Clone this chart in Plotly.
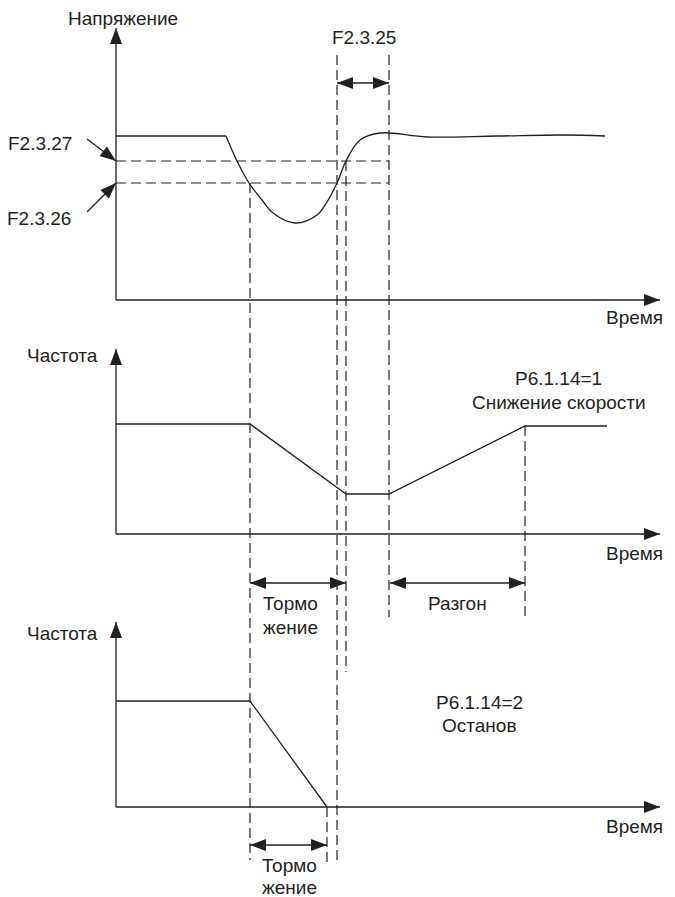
import numpy as np
import plotly.graph_objects as go

# Напряжение (верхний график), время в условных единицах
volt_flat_t = [0, 110]
volt_flat_v = [164, 164]
volt_curve_t = [110, 121, 133, 146, 157, 179, 201, 211, 221, 230, 244, 264, 311, 381, 447, 489]
volt_curve_v = [164, 139, 117, 100, 87, 77, 85, 98, 117, 139, 160, 167, 163, 164, 165, 164]
thr_27 = 139   # F2.3.27
thr_26 = 117   # F2.3.26

# Частота, P6.1.14=1 (снижение скорости)
freq1_t = [0, 134, 230, 273, 409, 491]
freq1_v = [110, 110, 40, 40, 108, 108]

# Частота, P6.1.14=2 (останов)
freq2_t = [0, 134, 211]
freq2_v = [106, 106, 0]

# моменты событий
t_brake, t_low, t_recover, t_hold, t_accel, t_stop = 134, 221, 230, 273, 409, 211
t_axis_end = 544

# положение панелей на общей вертикали
BASE = {'volt': 597, 'f1': 363, 'f2': 90}
INK = '#231f20'
FONT = 'Liberation Sans, Arial, sans-serif'
DASH = '10px,5px'

fig = go.Figure()


def Y(panel, v):
    return (BASE[panel] + np.asarray(v, dtype=float)).tolist()


def line(t, y, dash=None, shape='linear', width=1.3):
    fig.add_trace(go.Scatter(
        x=t, y=y, mode='lines',
        line=dict(color=INK, width=width, dash=dash, shape=shape),
        hoverinfo='skip', showlegend=False))


def head(x, y, dx, dy, L=16, W=12):
    d = np.hypot(dx, dy)
    ux, uy = dx / d, dy / d
    bx, by = x - ux * L, y - uy * L
    nx, ny = -uy * W / 2, ux * W / 2
    fig.add_shape(type='path',
                  path=f'M{x},{y} L{bx + nx},{by + ny} L{bx - nx},{by - ny} Z',
                  xref='x', yref='y', fillcolor=INK, line=dict(width=0))


def double_arrow(panel, v, t0, t1):
    y = Y(panel, v)
    line([t0, t1], [y, y], width=1.3)
    head(t0, y, -1, 0)
    head(t1, y, 1, 0)


def text(s, t, panel, v, anchor='center'):
    fig.add_annotation(x=t, y=Y(panel, v), text=s, showarrow=False,
                       xanchor=anchor, yanchor='middle',
                       font=dict(family=FONT, size=19, color=INK))


# оси
for panel, tip in [('volt', 272), ('f1', 185), ('f2', 185)]:
    y0, y1 = Y(panel, 0), Y(panel, tip)
    line([0, 0], [y0, y1])
    head(0, y1, 0, 1)
    line([0, t_axis_end], [y0, y0])
    head(t_axis_end, y0, 1, 0)

# кривые
line(volt_flat_t, Y('volt', volt_flat_v))
line(volt_curve_t, Y('volt', volt_curve_v), shape='spline')
line(freq1_t, Y('f1', freq1_v))
line(freq2_t, Y('f2', freq2_v))

# пороги
for thr in (thr_27, thr_26):
    line([0, t_hold], [Y('volt', thr)] * 2, dash=DASH, width=1.2)

# вертикальные пунктиры
verticals = [
    (t_brake, ('volt', thr_26), ('f2', -53)),
    (t_low, ('volt', 245), ('f2', -58)),
    (t_recover, ('volt', thr_27), ('f1', -138)),
    (t_hold, ('volt', 245), ('f1', -83)),
    (t_accel, ('f1', 108), ('f1', -83)),
    (t_stop, ('f2', 0), ('f2', -56)),
]
for t, a, b in verticals:
    line([t, t], [Y(*a), Y(*b)], dash=DASH, width=1.2)

# стрелки интервалов
double_arrow('volt', 217, t_low, t_hold)
double_arrow('f1', -49, t_brake, t_recover)
double_arrow('f1', -49, t_hold + 1, t_accel)
double_arrow('f2', -38, t_brake, t_stop)

# указатели порогов
for tail_v, thr in [(161, thr_27), (88, thr_26)]:
    ty, hy = Y('volt', tail_v), Y('volt', thr)
    line([-29, 0], [ty, hy])
    head(0, hy, 29, hy - ty)

# подписи
text('Напряжение', 7, 'volt', 282)
text('F2.3.25', 248, 'volt', 263)
text('F2.3.27', -76, 'volt', 157)
text('F2.3.26', -77, 'volt', 82)
text('Время', 549, 'volt', -17, 'right')
text('Частота', -16, 'f1', 179, 'right')
text('Время', 549, 'f1', -19, 'right')
text('P6.1.14=1', 442, 'f1', 156)
text('Снижение скорости', 443, 'f1', 132)
text('Тормо', 174, 'f1', -69)
text('жение', 174, 'f1', -93)
text('Разгон', 341, 'f1', -69)
text('Частота', -16, 'f2', 174, 'right')
text('Время', 549, 'f2', -19, 'right')
text('P6.1.14=2', 363, 'f2', 105)
text('Останов', 363, 'f2', 82)
text('Тормо', 173, 'f2', -58)
text('жение', 173, 'f2', -80)

# страница добавляет отступ 8px слева и сверху, поэтому холст меньше окна
fig.update_layout(
    width=667, height=889,
    margin=dict(l=0, r=0, t=0, b=0),
    plot_bgcolor='white', paper_bgcolor='white',
    xaxis=dict(range=[-108, 559], visible=False, fixedrange=True),
    yaxis=dict(range=[0, 889], visible=False, fixedrange=True),
)

fig.write_html("out.html")
